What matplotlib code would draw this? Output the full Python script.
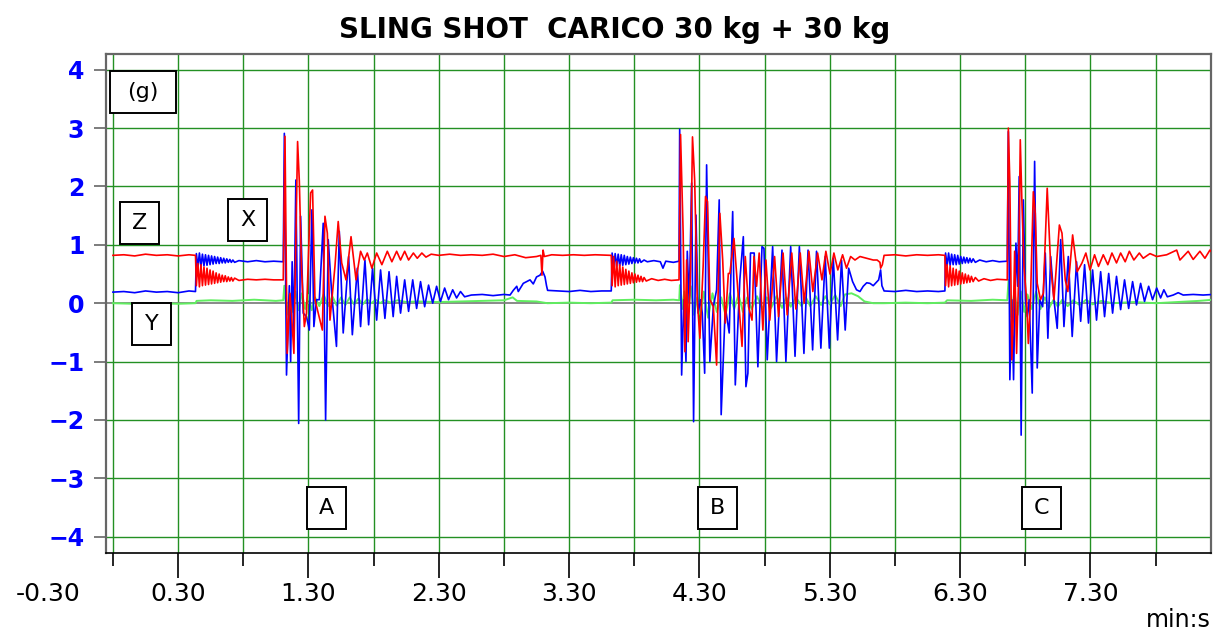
"""
Sling shot test - accelerometer record, load 30 kg + 30 kg
"""

import matplotlib
matplotlib.use("Agg")
import matplotlib.pyplot as plt
from matplotlib.patches import Rectangle

# time in seconds (tick labels are min:s), acceleration in g

# X channel (blue)
x_t = [0, 5, 10, 15, 20, 25, 30, 35, 38.0,
       38.4, 39.1, 39.8, 40.5, 41.2, 41.9, 42.6, 43.3, 44.0, 44.7, 45.4, 46.1, 46.8, 47.5,
       48.2, 48.9, 49.6, 50.3, 51.0, 51.7, 52.4, 53.1, 53.8, 54.5, 55.2, 56.0, 58, 62, 66,
       70, 74, 78.4,
       78.9, 79.9, 81.2, 81.8, 82.5, 83.3, 84.2, 85.5, 86.4, 87.6, 89.1, 90.4, 91.6, 92.5,
       93.7, 95.0, 96.8, 97.9, 99.1, 100.7, 102.9, 104.2, 106.0, 108.5, 110.2, 112.5, 114.0,
       116.0, 117.7, 119.5, 121.4, 123.2, 125.2, 127.1, 129.0, 130.6, 132.4, 134.3, 136.1,
       138.0, 139.8, 141.6, 143.5, 145.3, 147.2, 149.0, 150.8, 152.7, 154.5, 156.4, 158.2,
       160.0, 161.9, 165, 170, 175, 180, 182.8, 184.3, 185.9, 186.6, 188.9, 190.5, 192.0,
       193.5, 195.0, 196.6, 197.8, 198.9, 199.6, 200.1, 205, 210, 215, 220, 225, 229.4,
       229.8, 230.5, 231.2, 231.9, 232.6, 233.3, 234.0, 234.7, 235.4, 236.1, 236.8, 237.5,
       238.2, 238.9, 239.6, 240.3, 241.0, 241.7, 242.4, 243.1, 244.5, 246, 249, 252, 253.2,
       254.5, 258, 260.6,
       260.9, 261.8, 262.8, 263.8, 264.4, 265.3, 266.4, 267.3, 268.4, 269.4, 270.5, 271.3,
       272.4, 273.3, 274.8, 276.4, 277.9, 279.1, 280.0, 281.9, 283.7, 285.3, 286.5, 288.6,
       290.2, 291.4, 292.3, 293.5, 295.2, 296.9, 298.8, 299.7, 301.2, 303.7, 305.5, 308.0,
       309.8, 312.0, 314.0, 316.0, 318.1, 320.0, 322.1, 323.9, 325.9, 327.9, 329.8, 331.6,
       333.6, 335.4, 337.1, 338.7, 340.5, 342.3, 343.9, 345.4, 347.0, 348.5, 350.0, 352.5,
       353.4, 354.0, 355.0, 360, 365, 370, 375, 380, 383.0,
       383.3, 384.0, 384.7, 385.4, 386.1, 386.8, 387.5, 388.2, 388.9, 389.6, 390.3, 391.0,
       391.7, 392.4, 393.1, 393.8, 394.5, 395.2, 396.0, 397.0, 399, 402, 405, 408, 411.7,
       412.2, 412.9, 413.8, 414.6, 415.7, 416.5, 417.2, 418.1, 419.1, 420.1, 420.9, 421.8,
       423.2, 424.3, 425.5, 426.7, 428.0, 429.2, 430.4, 431.7, 433.2, 434.7, 436.3, 437.8,
       439.8, 441.6, 443.6, 445.5, 447.3, 449.1, 451.0, 452.8, 454.7, 456.5, 458.4, 460.2,
       462.0, 463.9, 465.7, 467.6, 469.4, 471.2, 473.1, 474.9, 476.8, 478.6, 480.5, 482.3,
       483.8, 485.4, 488.1, 490.4, 492.7, 497.3, 501.9, 506.4]
x_g = [0.19, 0.2, 0.18, 0.21, 0.19, 0.2, 0.18, 0.21, 0.2,
       0.85, 0.62, 0.86, 0.63, 0.84, 0.64, 0.83, 0.65, 0.82, 0.66, 0.81, 0.67, 0.8, 0.68,
       0.79, 0.68, 0.78, 0.69, 0.77, 0.69, 0.76, 0.7, 0.75, 0.7, 0.74, 0.7, 0.73, 0.71, 0.73,
       0.71, 0.72, 0.71,
       2.91, -1.23, 0.3, -1.0, 0.71, -0.5, 2.11, -2.06, 1.49, -0.17, -0.23, -0.46, 1.6, -0.4,
       0.06, 0.06, 1.37, -2.0, 1.09, 0.17, -0.74, 1.23, -0.51, 0.8, -0.54, 0.6, -0.4,
       0.74, -0.37, 0.6, -0.29, 0.57, -0.26, 0.54, -0.23, 0.46, -0.17, 0.4, -0.14,
       0.4, -0.09, 0.37, -0.06, 0.31, 0.0, 0.29, 0.03, 0.26, 0.06, 0.23, 0.09,
       0.2, 0.11, 0.14, 0.15, 0.13, 0.15, 0.14, 0.22, 0.29, 0.2, 0.34, 0.37, 0.4,
       0.33, 0.45, 0.48, 0.55, 0.45, 0.3, 0.22, 0.21, 0.2, 0.22, 0.2, 0.21, 0.21,
       0.86, 0.62, 0.85, 0.63, 0.84, 0.64, 0.83, 0.65, 0.82, 0.66, 0.8, 0.67,
       0.79, 0.68, 0.78, 0.69, 0.77, 0.69, 0.76, 0.7, 0.74, 0.71, 0.73, 0.71, 0.6,
       0.72, 0.7, 0.72,
       2.98, -1.23, 0.06, -1.0, 0.89, 0.0, 2.06, -2.03, 1.51, -0.17, 0.06, -0.17,
       -1.2, 2.37, -1.0, -0.06, 0.23, 1.77, -1.91, -0.06, -0.51, 1.57, -1.4, 0.4,
       1.14, -1.43, -1.2, 0.86, 0.86, -1.09, 0.97, 0.94, -0.97, 0.97, -1.0, 0.91,
       -1.0, 0.97, -0.91, 0.97, -0.86, 0.91, -0.8, 0.89, -0.77, 0.8, -0.77, 0.77,
       -0.63, 0.74, -0.46, 0.6, 0.37, 0.23, 0.2, 0.29, 0.35, 0.34, 0.3, 0.4,
       0.57, 0.3, 0.21, 0.2, 0.22, 0.2, 0.21, 0.2, 0.21,
       0.86, 0.64, 0.86, 0.65, 0.84, 0.66, 0.83, 0.66, 0.82, 0.67, 0.8, 0.68,
       0.79, 0.69, 0.78, 0.69, 0.77, 0.7, 0.76, 0.7, 0.74, 0.71, 0.73, 0.71, 0.72,
       2.94, -1.31, 0.06, -1.31, 1.03, 0.29, 2.17, -2.26, 1.77, 0.06, -0.23, 0.06,
       -1.54, 2.43, -1.11, 0.06, -0.06, 0.86, -0.6, 0.8, 0.06, -0.43, 1.09, -0.4,
       0.8, -0.57, 0.71, -0.31, 0.66, -0.34, 0.57, -0.29, 0.54, -0.23, 0.51, -0.17,
       0.46, -0.11, 0.4, -0.09, 0.37, -0.03, 0.34, 0.03, 0.29, 0.06, 0.26, 0.09,
       0.23, 0.11, 0.14, 0.18, 0.14, 0.15, 0.14, 0.15]

# Z channel (red)
z_t = [0, 5, 10, 15, 20, 25, 30, 35, 38.0,
       38.4, 39.1, 39.8, 40.5, 41.2, 41.9, 42.6, 43.3, 44.0, 44.7, 45.4, 46.1, 46.8, 47.5,
       48.2, 48.9, 49.6, 50.3, 51.0, 51.7, 52.4, 53.1, 53.8, 54.5, 55.2, 56.0, 58, 62, 66,
       70, 74, 78.4,
       79.2, 80.2, 81.5, 82.4, 83.3, 85.0, 85.8, 86.8, 88.1, 89.1, 91.0, 91.9, 93.0, 94.5,
       96.4, 97.6, 98.7, 99.9, 102.2, 103.7, 105.3, 107.3, 109.6, 111.9, 114.0, 115.7,
       117.1, 119.2, 121.4, 123.8, 126.3, 128.4, 130.6, 132.4, 134.3, 136.1, 138.3, 140.1,
       142.2, 144.1, 146.5, 150, 155, 160, 165, 170, 175, 180, 185, 190, 195, 197.0, 197.5,
       198.0, 198.6, 202, 207, 212, 217, 222, 229.4,
       229.8, 230.5, 231.2, 231.9, 232.6, 233.3, 234.0, 234.7, 235.4, 236.1, 236.8, 237.5,
       238.2, 238.9, 239.6, 240.3, 241.0, 241.7, 242.4, 243.1, 243.8, 244.5, 245.5, 248,
       251, 254, 257, 260.6,
       261.3, 262.5, 263.3, 264.1, 264.8, 265.9, 266.8, 267.8, 269.0, 270.2, 271.7, 272.8,
       273.7, 274.8, 276.4, 277.9, 279.4, 280.7, 281.9, 283.3, 284.0, 285.9, 287.1, 289.6,
       291.1, 292.6, 294.2, 295.1, 296.3, 297.5, 299.2, 300.6, 302.4, 304.6, 306.4, 308.5,
       310.4, 312.5, 314.4, 316.4, 318.2, 320.4, 322.2, 324.4, 326.4, 328.2, 330.1, 331.9,
       333.7, 335.9, 337.7, 339.6, 341.6, 343.9, 346.9, 350.0, 351.8, 353.1, 353.4, 354.2,
       355.0, 360, 365, 370, 375, 380, 383.0,
       383.3, 384.0, 384.7, 385.4, 386.1, 386.8, 387.5, 388.2, 388.9, 389.6, 390.3, 391.0,
       391.7, 392.4, 393.1, 393.8, 394.5, 395.2, 396.0, 397.0, 398.5, 401, 404, 407, 411.7,
       412.2, 412.9, 413.8, 414.5, 415.1, 416.0, 416.9, 417.7, 418.4, 419.4, 420.6, 421.4,
       422.4, 423.7, 424.6, 425.5, 427.0, 428.3, 430.1, 431.7, 433.2, 435.7, 436.9, 438.4,
       439.6, 441.8, 443.9, 446.1, 447.9, 449.8, 451.9, 453.7, 455.9, 458.0, 459.9, 462.0,
       463.9, 466.0, 467.9, 470.0, 472.5, 474.3, 477.4, 480.5, 485.1, 489.7, 491.2, 495.0,
       497.3, 500.4, 502.7, 505.0, 506.4]
z_g = [0.82, 0.83, 0.81, 0.84, 0.82, 0.83, 0.81, 0.83, 0.82,
       0.3, 0.68, 0.28, 0.66, 0.3, 0.62, 0.31, 0.6, 0.32, 0.57, 0.33, 0.55, 0.34, 0.52,
       0.35, 0.5, 0.36, 0.48, 0.37, 0.47, 0.37, 0.45, 0.38, 0.44, 0.38, 0.43, 0.39, 0.41, 0.4,
       0.41, 0.4, 0.4,
       2.86, -0.86, 0.17, -0.3, -0.86, 2.77, 2.09, 0.6, -0.4, -0.17, 1.89, 1.94, 0.06, -0.17,
       -0.46, 1.49, 1.2, -0.29, 0.63, 1.4, 0.69, 0.4, 1.14, 0.4, 0.89, 0.74,
       0.86, 0.6, 0.86, 0.66, 0.89, 0.71, 0.89, 0.74, 0.89, 0.74, 0.86, 0.77,
       0.86, 0.79, 0.84, 0.82, 0.84, 0.82, 0.83, 0.82, 0.84, 0.8, 0.83, 0.78, 0.8, 0.82, 0.48,
       0.91, 0.8, 0.83, 0.82, 0.83, 0.82, 0.83, 0.82,
       0.3, 0.8, 0.28, 0.72, 0.3, 0.66, 0.31, 0.62, 0.32, 0.58, 0.33, 0.55,
       0.34, 0.52, 0.35, 0.5, 0.36, 0.48, 0.37, 0.46, 0.37, 0.44, 0.38, 0.42,
       0.39, 0.41, 0.39, 0.4,
       2.89, 1.2, -0.83, 0.74, -0.66, 0.57, 2.85, 2.11, 0.06, -0.6, 0.63, 1.83,
       1.74, 0.06, -0.06, -1.06, 1.54, 0.74, -0.34, 0.51, 0.51, 1.11, 0.51, -0.74,
       0.8, -0.06, -0.29, 0.8, 0.29, 0.86, -0.46, 0.74, -0.29, 0.8, -0.23, 0.86,
       -0.2, 0.86, -0.1, 0.86, 0.0, 0.89, 0.2, 0.86, 0.4, 0.89, 0.5, 0.86,
       0.57, 0.83, 0.6, 0.8, 0.74, 0.8, 0.77, 0.74, 0.74, 0.7, 0.6, 0.66,
       0.82, 0.83, 0.81, 0.83, 0.82, 0.83, 0.82,
       0.3, 0.66, 0.28, 0.64, 0.3, 0.6, 0.31, 0.58, 0.32, 0.55, 0.33, 0.52,
       0.34, 0.5, 0.35, 0.48, 0.36, 0.46, 0.37, 0.44, 0.38, 0.42, 0.39, 0.41, 0.4,
       3.0, 2.06, -0.97, -0.23, 0.89, -0.86, 0.4, 2.8, 1.8, 0.63, 0.06, -0.69,
       0.06, 1.91, 1.54, 0.34, 0.06, 0.17, 1.97, 0.63, 0.06, 1.34, 1.2, 0.4,
       0.2, 1.17, 0.54, 0.69, 0.86, 0.57, 0.83, 0.63, 0.83, 0.66, 0.86, 0.69,
       0.86, 0.71, 0.89, 0.74, 0.86, 0.77, 0.85, 0.8, 0.83, 0.91, 0.74, 0.89,
       0.75, 0.89, 0.77, 0.91, 0.85]

# Y channel (green)
y_t = [0, 10, 20, 30, 38.0, 38.5, 45, 55, 65, 75, 78.4,
       78.9, 80.0, 81.3, 82.5, 84.0, 85.5, 87.0, 88.5, 90.0, 91.5, 93.0, 95.0, 97.0, 99.0,
       101, 103, 105, 107, 109, 111, 113, 115, 117, 119, 121, 123, 125, 128, 131, 135, 140,
       150, 160, 170, 180, 184, 186, 195, 200, 210, 220, 229.5, 230, 240, 250, 258, 260.7,
       261.0, 262, 263, 264.5, 266, 267.5, 269, 270.5, 272, 274, 276, 278, 280, 282, 284,
       286, 288, 290, 292, 294, 296.5, 299, 301, 303, 305.5, 308, 310, 312, 314.5, 317, 319,
       321, 323.5, 326, 328, 330, 332.5, 335, 337, 340, 343, 346, 350, 355, 365, 375, 383,
       384, 395, 405, 411.7,
       412.3, 413.5, 415, 416.5, 418, 419.5, 421, 423, 425, 427, 429, 431, 433, 435, 437,
       439.5, 442, 445, 448, 451, 455, 460, 470, 480, 490, 500, 506.4]
y_g = [0.0, -0.01, 0.0, -0.01, 0.0, 0.04, 0.05, 0.04, 0.06, 0.04, 0.05,
       0.3, -0.2, 0.15, -0.15, 0.2, -0.12, 0.17, -0.1, 0.14, -0.12, 0.1, -0.05, 0.15, -0.05,
       0.12, -0.04, 0.1, -0.03, 0.1, -0.02, 0.08, -0.02, 0.07, 0.0, 0.06, 0.0, 0.05, 0.01,
       0.05, 0.02, 0.03,
       0.02, 0.03, 0.04, 0.05, 0.1, 0.04, 0.03, 0.0, 0.01, 0.0, 0.01, 0.05, 0.06, 0.05, 0.06,
       0.05,
       0.31, -0.1, 0.2, -0.25, 0.29, -0.2, 0.1, -0.2, 0.2, -0.25, 0.17, -0.15, 0.1, -0.2,
       0.17, -0.1, 0.15, -0.15, 0.1, -0.1, 0.12, -0.1, 0.1, -0.08, 0.12, -0.08, 0.1, -0.06,
       0.1, -0.05, 0.1, -0.05, 0.12, -0.03, 0.12, -0.02, 0.14, -0.05, 0.15, 0.17, 0.12,
       0.03, 0.0, 0.0, 0.01, 0.0, 0.01, 0.05, 0.04, 0.06, 0.05,
       0.4, -0.23, 0.2, -0.2, 0.2, -0.15, 0.15, -0.1, 0.2, -0.1, 0.1, -0.08, 0.06, -0.06,
       0.06, -0.05, 0.05, -0.03, 0.06, -0.02, 0.04, 0.0, 0.02, 0.0, 0.02, 0.04, 0.06]

x_ticks = [30, 90, 150, 210, 270, 330, 390, 450]
x_tick_labels = ["0.30", "1.30", "2.30", "3.30", "4.30", "5.30", "6.30", "7.30"]
x_minor = [0, 60, 120, 180, 240, 300, 360, 420, 480]
y_ticks = [-4, -3, -2, -1, 0, 1, 2, 3, 4]

# boxed labels: text, centre (s, g), width (s)
boxes = [("(g)", 13.8, 3.62, 30), ("Z", 12.4, 1.37, 18), ("X", 62.1, 1.43, 18),
         ("Y", 17.9, -0.36, 18), ("A", 98.5, -3.51, 18), ("B", 278.3, -3.51, 18),
         ("C", 427.4, -3.51, 18)]

plt.rcParams['font.family'] = ['DejaVu Sans']

fig = plt.figure(figsize=(12.13, 6.33), dpi=100)
ax = fig.add_axes([106 / 1213, 1 - 553 / 633, 1105 / 1213, 499 / 633])

ax.plot(y_t, y_g, color='#60ee60', lw=1.4, zorder=3)
ax.plot(x_t, x_g, color='#0000ff', lw=1.2, zorder=4)
ax.plot(z_t, z_g, color='#ff0000', lw=1.2, zorder=4)

ax.set_xlim(-3.2, 505.5)
ax.set_ylim(-4.28, 4.27)

# grid
for v in x_minor + x_ticks:
    ax.axvline(v, color='#239023', lw=1.0, zorder=1)
for v in y_ticks:
    if v == 0:
        ax.axhline(v, color='#808080', lw=1.3, zorder=1)
    else:
        ax.axhline(v, color='#239023', lw=1.0, zorder=1)

ax.set_xticks(x_ticks)
ax.set_xticklabels(x_tick_labels)
ax.set_xticks(x_minor, minor=True)
ax.tick_params(axis='x', which='major', length=18, width=1.2, labelsize=18, pad=3)
ax.tick_params(axis='x', which='minor', length=9, width=1.2)
ax.set_yticks(y_ticks)
ax.tick_params(axis='y', length=8.6, width=1.2, color='#666666', labelsize=17,
               labelcolor='#0000ff', pad=7)
for lab in ax.get_yticklabels():
    lab.set_fontweight('bold')

# the first label sits left of the axis, outside the view limits
ax.text(-30, -0.0585, "-0.30", transform=ax.get_xaxis_transform(), ha='center', va='top',
        fontsize=18, clip_on=False)

for s in ['left', 'top', 'right']:
    ax.spines[s].set_color('#666666')
    ax.spines[s].set_linewidth(1.6)
ax.spines['bottom'].set_linewidth(1.2)

for txt, cx, cy, w in boxes:
    h = 0.72
    ax.add_patch(Rectangle((cx - w / 2, cy - h / 2), w, h, facecolor='white',
                           edgecolor='black', lw=1.4, zorder=6))
    ax.text(cx, cy, txt, ha='center', va='center', fontsize=16, zorder=7)

fig.text(615 / 1213, 1 - 30 / 633, "SLING SHOT  CARICO 30 kg + 30 kg", ha='center',
         va='center', fontsize=20, fontweight='bold')
fig.text(1211 / 1213, 1 / 633, "min:s", ha='right', va='bottom', fontsize=17)

fig.savefig("out.png", dpi=100)
